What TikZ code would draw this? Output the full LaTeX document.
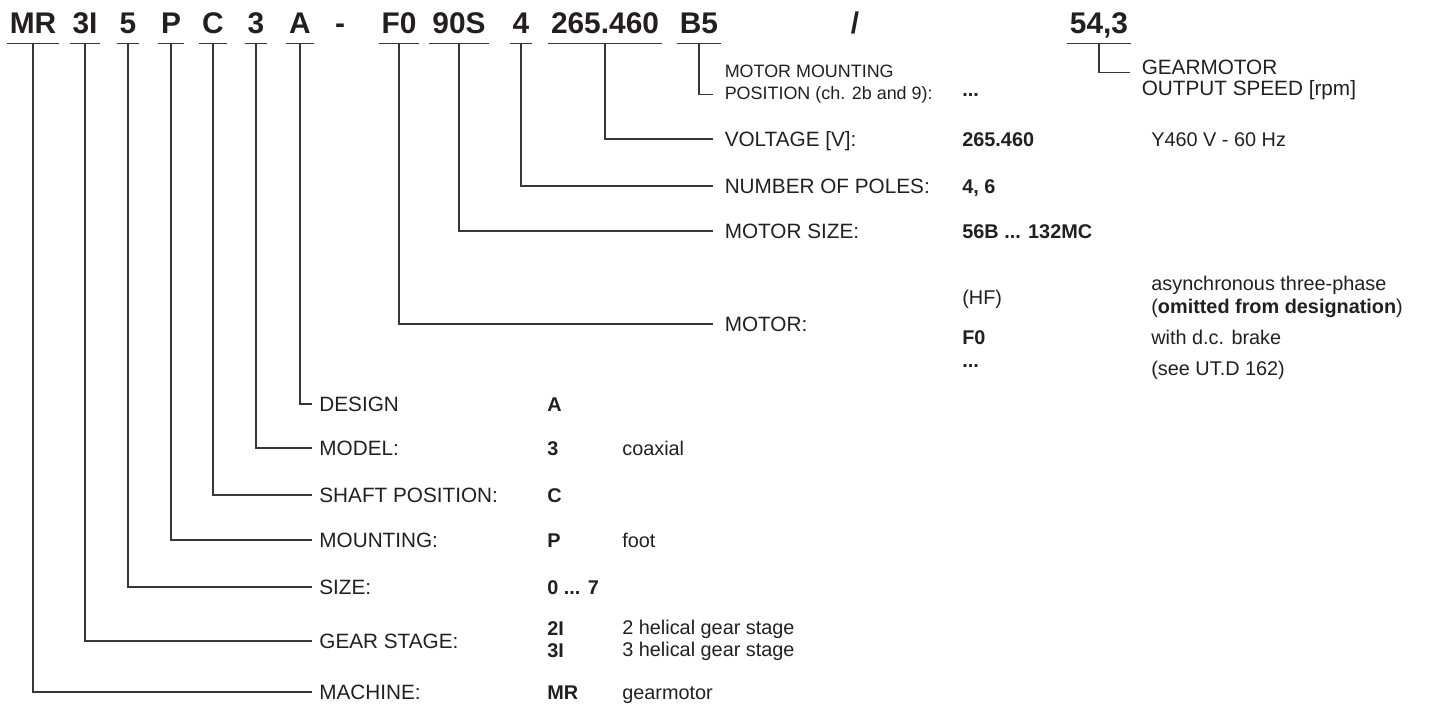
\documentclass[tikz,border=0pt]{standalone}
\usepackage{fontspec}
\setmainfont{Liberation Sans}
\usepackage{tikz}
\usetikzlibrary{positioning}
\definecolor{ink}{RGB}{35, 31, 32}
\definecolor{leadgrey}{RGB}{55, 55, 55}

\begin{document}
\begin{tikzpicture}[
    x=0.02cm, y=-0.02cm,
    lead/.style={draw=leadgrey, line width=0.6pt},
    code/.style={font=\fontsize{17}{20}\selectfont\bfseries, text=ink, anchor=base,
                 text depth=0pt, inner xsep=1.5pt, inner ysep=5.1pt},
    lab/.style={font=\fontsize{11.8}{14}\selectfont, text=ink, anchor=west,
                text height=8.5pt, text depth=0pt, inner xsep=4pt},
    labwide/.style={lab, inner xsep=6.5pt},
    val/.style={font=\fontsize{11.3}{13}\selectfont\bfseries, text=ink, anchor=west,
                text height=8.1pt, text depth=0pt, inner xsep=0pt},
    desc/.style={val, font=\fontsize{11.3}{13}\selectfont},
    twoline/.style={align=left, text height={}, text depth={}}
]
    \useasboundingbox (0,0) rectangle (1434,706);

    % designation code
    \node[code] (mr)   at (33,34)   {MR};
    \node[code] (gs)   at (85,34)   {3I};
    \node[code] (sz)   at (128,34)  {5};
    \node[code] (mt)   at (171,34)  {P};
    \node[code] (sp)   at (213,34)  {C};
    \node[code] (md)   at (256,34)  {3};
    \node[code] (ds)   at (300,34)  {A};
    \node[code] (dash) at (340,34)  {-};
    \node[code] (mo)   at (399,34)  {F0};
    \node[code] (ms)   at (459,34)  {90S};
    \node[code] (np)   at (521,34)  {4};
    \node[code] (vt)   at (605,34)  {265.460};
    \node[code] (mp)   at (699,34)  {B5};
    \node[code] (sl)   at (855,34)  {/};
    \node[code] (os)   at (1099,34) {54,3};
    \foreach \n in {mr,gs,sz,mt,sp,md,ds,mo,ms,np,vt,mp,os}
        \draw[lead] (\n.south west) -- (\n.south east);

    % motor part
    \node[labwide, twoline, font=\fontsize{10.2}{12.5}\selectfont] (mountpos) at (713,84)
        {MOTOR MOUNTING\\POSITION (ch. 2b and 9):};
    \node[labwide, twoline, font=\fontsize{11.8}{12.2}\selectfont] (outspeed) at (1130,80)
        {GEARMOTOR\\OUTPUT SPEED [rpm]};
    \node[labwide] (voltage)   at (713,139) {VOLTAGE [V]:};
    \node[labwide] (poles)     at (713,186) {NUMBER OF POLES:};
    \node[labwide] (motorsize) at (713,231) {MOTOR SIZE:};
    \node[labwide] (motor)     at (713,324) {MOTOR:};

    \node[val] (v-mp) at (962,89)  {...};
    \node[val] (v-vt) at (962,139) {265.460};
    \node[val] (v-np) at (962,186) {4, 6};
    \node[val] (v-ms) at (962,231) {56B ... 132MC};
    \node[desc] (v-hf) at (962,297) {(HF)};
    \node[val] (v-f0) at (962,337) {F0};
    \node[val] (v-etc) at (962,360) {...};

    \node[desc] (d-vt) at (1151,139) {Y460 V - 60 Hz};
    \node[desc, twoline, font=\fontsize{11.3}{13}\selectfont] (d-hf) at (1151,297)
        {asynchronous three-phase\\(\textbf{omitted from designation})};
    \node[desc] (d-f0) at (1151,337) {with d.c. brake};
    \node[desc] (d-etc) at (1151,368) {(see UT.D 162)};

    % gear reducer part
    \node[lab] (design)    at (312,404) {DESIGN};
    \node[lab] (model)     at (312,448) {MODEL:};
    \node[lab] (shaftpos)  at (312,495) {SHAFT POSITION:};
    \node[lab] (mounting)  at (312,540) {MOUNTING:};
    \node[lab] (size)      at (312,587) {SIZE:};
    \node[lab] (gearstage) at (312,641) {GEAR STAGE:};
    \node[lab] (machine)   at (312,692) {MACHINE:};

    \node[val] (v-ds) at (547,404) {A};
    \node[val] (v-md) at (547,448) {3};
    \node[val] (v-sp) at (547,495) {C};
    \node[val] (v-mt) at (547,540) {P};
    \node[val] (v-sz) at (547,587) {0 ... 7};
    \node[val, twoline, font=\fontsize{11.3}{12.6}\selectfont\bfseries] (v-gs) at (547,640) {2I\\3I};
    \node[val] (v-mr) at (547,692) {MR};

    \node[desc] (d-md) at (622,448) {coaxial};
    \node[desc] (d-mt) at (622,540) {foot};
    \node[desc, twoline, font=\fontsize{11.3}{12.6}\selectfont] (d-gs) at (622,640)
        {2 helical gear stage\\3 helical gear stage};
    \node[desc] (d-mr) at (622,692) {gearmotor};

    % leaders
    \draw[lead] (os.south) |- ([yshift=4.2pt]outspeed.west);
    \draw[lead] (mp.south) |- ([yshift=-6.2pt]mountpos.west);
    \draw[lead] (vt.south) |- (voltage.west);
    \draw[lead] (np.south) |- (poles.west);
    \draw[lead] (ms.south) |- (motorsize.west);
    \draw[lead] (mo.south) |- (motor.west);
    \draw[lead] (ds.south) |- (design.west);
    \draw[lead] (md.south) |- (model.west);
    \draw[lead] (sp.south) |- (shaftpos.west);
    \draw[lead] (mt.south) |- (mounting.west);
    \draw[lead] (sz.south) |- (size.west);
    \draw[lead] (gs.south) |- (gearstage.west);
    \draw[lead] (mr.south) |- (machine.west);
\end{tikzpicture}
\end{document}
